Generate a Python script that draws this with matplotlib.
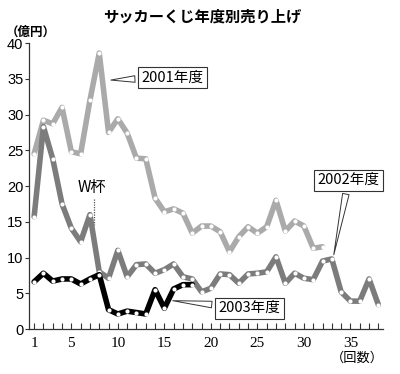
import matplotlib
matplotlib.use("Agg")
import matplotlib.pyplot as plt
import numpy as np

title = "サッカーくじ年度別売り上げ"
y_unit = "（億円）"
x_unit = "（回数）"

sales_2001 = [24.5, 29.2, 28.7, 31.0, 24.8, 24.5, 32.0, 38.6, 27.5, 29.4,
              27.4, 23.9, 23.8, 18.3, 16.4, 16.8, 16.2, 13.4, 14.4, 14.4,
              13.6, 10.8, 12.9, 14.3, 13.4, 14.3, 18.0, 13.7, 15.1, 14.4,
              11.3, 11.5]
sales_2002 = [15.7, 28.3, 23.8, 17.5, 14.1, 12.2, 16.0, 8.0, 7.1, 11.0,
              7.3, 9.0, 9.1, 7.8, 8.3, 9.1, 7.3, 7.0, 5.2, 5.7,
              7.7, 7.6, 6.4, 7.7, 7.8, 8.0, 10.1, 6.4, 7.8, 7.1,
              6.9, 9.5, 9.8, 5.2, 3.9, 3.9, 7.0, 3.4]
sales_2003 = [6.6, 7.8, 6.7, 7.0, 7.0, 6.3, 7.0, 7.6, 2.7, 2.1,
              2.5, 2.3, 2.1, 5.5, 2.9, 5.6, 6.2, 6.2]

series_labels = ["2001年度", "2002年度", "2003年度"]
yticks = [0, 5, 10, 15, 20, 25, 30, 35, 40]
xtick_labels = [1, 5, 10, 15, 20, 25, 30, 35]

JP = ["Noto Sans CJK JP", "DejaVu Sans"]

fig = plt.figure(figsize=(4.0, 3.74), dpi=100)
ax = fig.add_axes([0.0725, 0.1203, 0.885, 0.7647])

def draw(vals, color, z):
    x = np.arange(1, len(vals) + 1)
    ax.plot(x, vals, color=color, lw=4.0, solid_joinstyle="round",
            solid_capstyle="round", zorder=z)
    ax.plot(x, vals, ls="none", marker="o", ms=3.0, mfc="white",
            mew=0, zorder=z + 0.5)

# World Cup marker
ax.plot([7.43, 7.43], [18.2, 14.5], color="#555555", lw=0.9, ls=(0, (1, 1)), zorder=1)
ax.text(7.2, 19.8, "W杯", family=JP, fontsize=11, ha="center", va="center",
        color="black", zorder=6)

draw(sales_2001, "#aaaaaa", 2)
draw(sales_2002, "#7c7c7c", 3)
draw(sales_2003, "#000000", 4)

box = dict(boxstyle="square,pad=0.25", fc="white", ec="#333333", lw=0.8)
wedge = dict(arrowstyle="wedge,tail_width=0.45,shrink_factor=0.5", fc="white",
             ec="#333333", lw=0.7)
ax.annotate(series_labels[0], xy=(8.95, 34.8), xytext=(15.9, 35.2),
            family=JP, fontsize=10.5, ha="center", va="center",
            bbox=box, arrowprops=wedge, zorder=7)
ax.annotate(series_labels[1], xy=(33.15, 10.0), xytext=(34.8, 20.8),
            family=JP, fontsize=10.5, ha="center", va="center",
            bbox=box, arrowprops=wedge, zorder=7)
ax.annotate(series_labels[2], xy=(15.6, 4.0), xytext=(24.15, 2.9),
            family=JP, fontsize=10.5, ha="center", va="center",
            bbox=box, arrowprops=wedge, zorder=7)

ax.set_xlim(0.45, 38.5)
ax.set_ylim(0, 40)
ax.set_yticks(yticks)
ax.set_yticklabels([str(v) for v in yticks], family="Liberation Sans", fontsize=10.5)
ax.set_xticks(xtick_labels)
ax.set_xticklabels([str(v) for v in xtick_labels], family="Liberation Serif", fontsize=11)
ax.set_xticks(np.arange(1, 39), minor=True)
ax.tick_params(axis="x", which="both", direction="in", length=4, width=0.8,
               color="#333333", pad=6)
ax.tick_params(axis="y", direction="out", length=3, width=0.8, color="#333333", pad=1)
for s in ["top", "right"]:
    ax.spines[s].set_visible(False)
for s in ["left", "bottom"]:
    ax.spines[s].set_color("#333333")
    ax.spines[s].set_linewidth(0.9)

fig.text(0.505, 0.957, title, family=JP, fontsize=11, fontweight="bold",
         ha="center", va="center")
fig.text(0.015, 0.913, y_unit, family=JP, fontsize=9, fontweight="bold",
         ha="left", va="center")
fig.text(0.96, 0.043, x_unit, family=JP, fontsize=9.5, ha="right", va="center")

fig.savefig("out.png", dpi=100)
